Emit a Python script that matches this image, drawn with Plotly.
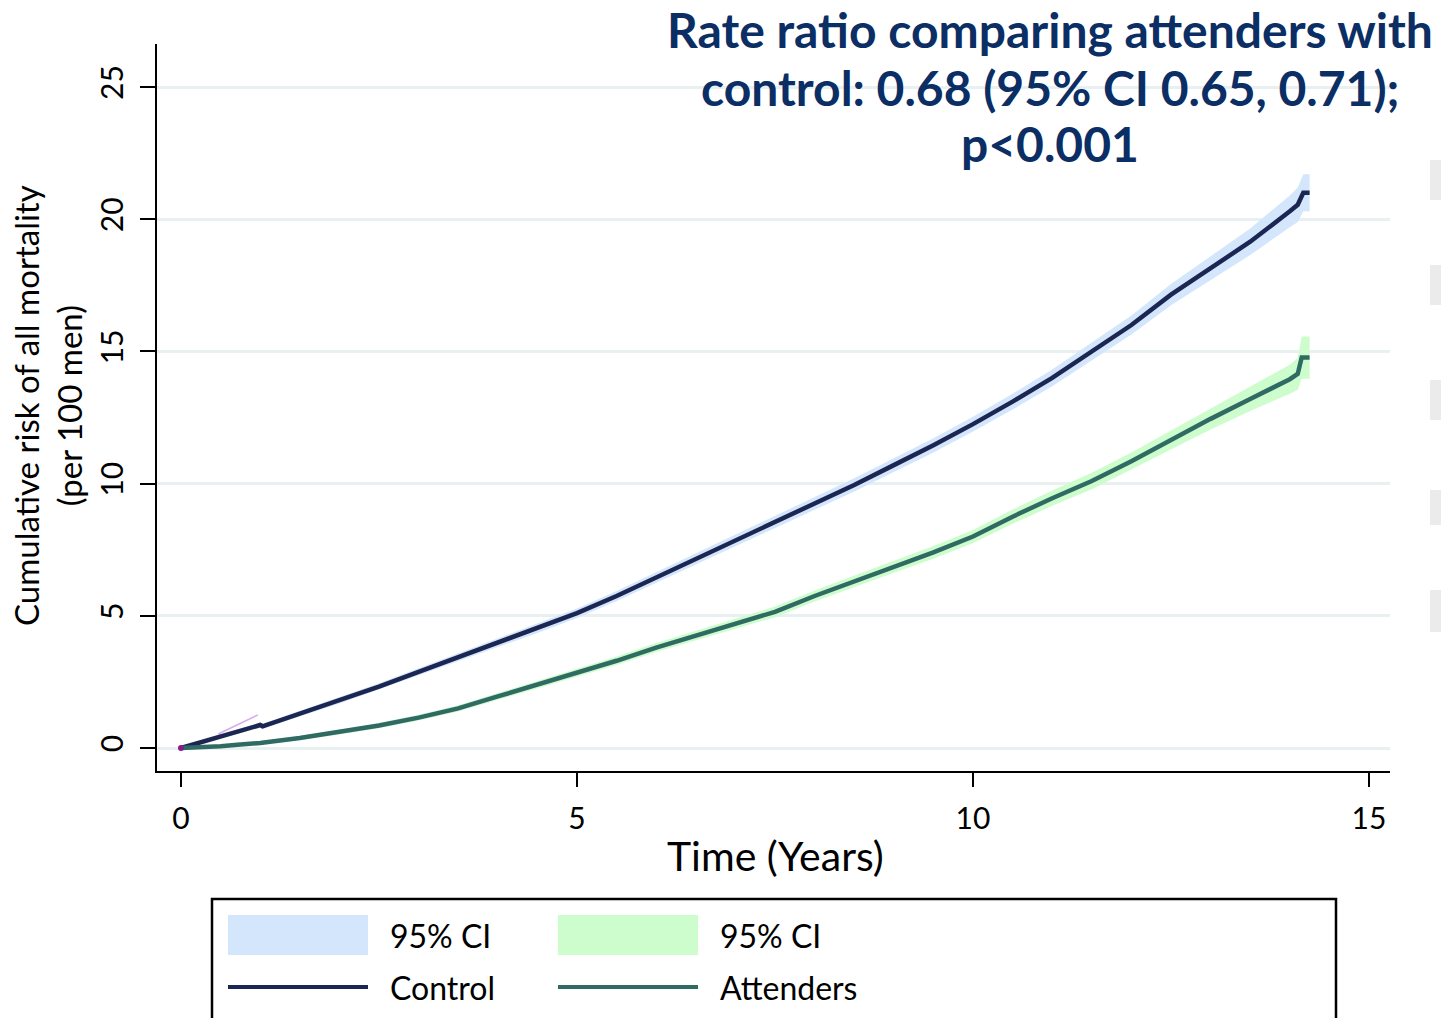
import plotly.graph_objects as go

# Cumulative all-cause mortality (per 100 men) by years since randomisation
control_t = [0, 0.25, 0.5, 0.75, 1.0, 1.03, 1.5, 2, 2.5, 3, 3.5, 4, 4.5, 5, 5.5, 6, 6.5, 7,
             7.5, 8, 8.5, 9, 9.5, 10, 10.5, 11, 11.5, 12, 12.5, 13, 13.5, 14, 14.1, 14.17, 14.25]
control_risk = [0, 0.22, 0.45, 0.65, 0.87, 0.82, 1.3, 1.8, 2.32, 2.88, 3.43, 3.98, 4.52, 5.1,
                5.75, 6.45, 7.15, 7.85, 8.55, 9.25, 9.95, 10.7, 11.45, 12.25, 13.1, 14.0, 15.0,
                16.0, 17.15, 18.15, 19.15, 20.3, 20.55, 21.0, 21.0]
control_ci_half = [0, 0.05, 0.07, 0.09, 0.1, 0.1, 0.11, 0.12, 0.13, 0.14, 0.15, 0.16, 0.17,
                   0.18, 0.19, 0.2, 0.21, 0.22, 0.23, 0.24, 0.25, 0.26, 0.27, 0.28, 0.3, 0.32,
                   0.34, 0.36, 0.4, 0.44, 0.5, 0.6, 0.65, 0.7, 0.7]

attenders_t = [0, 0.25, 0.5, 0.75, 1.0, 1.5, 2, 2.5, 3, 3.5, 4, 4.5, 5, 5.5, 6, 6.5, 7, 7.5,
               8, 8.5, 9, 9.5, 10, 10.5, 11, 11.5, 12, 12.5, 13, 13.5, 14, 14.1, 14.15, 14.25]
attenders_risk = [0, 0.02, 0.07, 0.13, 0.19, 0.38, 0.6, 0.85, 1.15, 1.5, 1.95, 2.4, 2.85, 3.3,
                  3.8, 4.25, 4.7, 5.15, 5.75, 6.3, 6.86, 7.4, 8.0, 8.75, 9.45, 10.1, 10.85,
                  11.65, 12.45, 13.2, 13.95, 14.15, 14.77, 14.77]
attenders_ci_half = [0, 0.02, 0.04, 0.05, 0.06, 0.08, 0.09, 0.1, 0.11, 0.12, 0.13, 0.14, 0.15,
                     0.16, 0.17, 0.18, 0.19, 0.2, 0.21, 0.22, 0.23, 0.24, 0.25, 0.27, 0.29, 0.31,
                     0.33, 0.36, 0.4, 0.45, 0.55, 0.6, 0.8, 0.8]

# faint reference segment near the origin
ref_t = [0.47, 0.97]
ref_risk = [0.53, 1.25]

x_ticks = [0, 5, 10, 15]
y_ticks = [0, 5, 10, 15, 20, 25]

title_lines = ["Rate ratio comparing attenders with",
               "control: 0.68 (95% CI 0.65, 0.71);",
               "p<0.001"]

NAVY = "#1b2752"
TEAL = "#2f6b63"
BLUE_CI = "#d3e6fb"
GREEN_CI = "#cdfccd"
FONT = "Lato"

W, H = 1441, 1018
L, R, T, B = 157, 51, 44, 247


def px_x(px):
    return (px - L) / (W - L - R)


def px_y(py):
    return (H - B - py) / (H - T - B)


def band(t, mid, half):
    lo = [m - h for m, h in zip(mid, half)]
    hi = [m + h for m, h in zip(mid, half)]
    return list(t) + list(t[::-1]), hi + lo[::-1]


fig = go.Figure()

bx, by = band(control_t, control_risk, control_ci_half)
fig.add_trace(go.Scatter(x=bx, y=by, fill="toself", fillcolor=BLUE_CI,
                         line=dict(width=0), mode="lines", hoverinfo="skip",
                         showlegend=False))
bx, by = band(attenders_t, attenders_risk, attenders_ci_half)
fig.add_trace(go.Scatter(x=bx, y=by, fill="toself", fillcolor=GREEN_CI,
                         line=dict(width=0), mode="lines", hoverinfo="skip",
                         showlegend=False))

fig.add_trace(go.Scatter(x=ref_t, y=ref_risk, mode="lines",
                         line=dict(color="#dba8f2", width=1.5), showlegend=False))

fig.add_trace(go.Scatter(x=control_t, y=control_risk, mode="lines",
                         line=dict(color=NAVY, width=4.5), name="Control",
                         showlegend=False))
fig.add_trace(go.Scatter(x=attenders_t, y=attenders_risk, mode="lines",
                         line=dict(color=TEAL, width=4.5), name="Attenders",
                         showlegend=False))
fig.add_trace(go.Scatter(x=[0], y=[0], mode="markers",
                         marker=dict(color="#8a1a8a", size=6), showlegend=False))

shapes = []
annotations = []

# legend box with swatches
shapes.append(dict(type="rect", xref="paper", yref="paper",
                   x0=px_x(212), x1=px_x(1336), y0=px_y(1040), y1=px_y(899),
                   line=dict(color="black", width=2.5), fillcolor="white", layer="above"))
legend_items = [
    ("rect", BLUE_CI, 228, 935, "95% CI"),
    ("rect", GREEN_CI, 558, 935, "95% CI"),
    ("line", NAVY, 228, 987, "Control"),
    ("line", TEAL, 558, 987, "Attenders"),
]
for kind, col, x0, yc, label in legend_items:
    if kind == "rect":
        shapes.append(dict(type="rect", xref="paper", yref="paper",
                           x0=px_x(x0), x1=px_x(x0 + 140), y0=px_y(yc + 20), y1=px_y(yc - 20),
                           line=dict(width=0), fillcolor=col, layer="above"))
    else:
        shapes.append(dict(type="line", xref="paper", yref="paper",
                           x0=px_x(x0), x1=px_x(x0 + 140), y0=px_y(yc), y1=px_y(yc),
                           line=dict(color=col, width=4), layer="above"))
    annotations.append(dict(text=label, xref="paper", yref="paper",
                            x=px_x(x0 + 160), y=px_y(yc), xanchor="left", yanchor="middle",
                            showarrow=False, font=dict(family=FONT, size=32, color="black")))

# light panel edges on the far right
for y0, y1 in [(160, 200), (265, 305), (380, 420), (490, 525), (590, 632)]:
    shapes.append(dict(type="rect", xref="paper", yref="paper",
                       x0=px_x(1430), x1=px_x(1445), y0=px_y(y1), y1=px_y(y0),
                       line=dict(width=0), fillcolor="#ebebeb", layer="below"))

# heading, one line at a time
for line, yc in zip(title_lines, [30, 87, 143]):
    annotations.append(dict(text=line, xref="paper", yref="paper",
                            x=px_x(1050), y=px_y(yc), xanchor="center", yanchor="middle",
                            showarrow=False,
                            font=dict(family=FONT, size=48, color="#0b2e64", weight="bold")))

annotations.append(dict(text="Time (Years)", xref="paper", yref="paper",
                        x=px_x(775), y=px_y(855), xanchor="center", yanchor="middle",
                        showarrow=False, font=dict(family=FONT, size=41, color="black")))

annotations.append(dict(text="Cumulative risk of all mortality<br>(per 100 men)",
                        xref="paper", yref="paper", x=px_x(48), y=px_y(406),
                        xanchor="center", yanchor="middle", textangle=-90,
                        showarrow=False, align="center",
                        font=dict(family=FONT, size=33, color="black")))

fig.update_layout(
    width=W, height=H,
    margin=dict(l=L, r=R, t=T, b=B),
    paper_bgcolor="white", plot_bgcolor="white",
    shapes=shapes, annotations=annotations,
    showlegend=False,
    xaxis=dict(range=[-0.303, 15.265], tickvals=x_ticks, ticks="outside", ticklen=14,
               tickwidth=2, tickcolor="black", showline=True, linecolor="black",
               linewidth=2, showgrid=False, zeroline=False, ticklabelstandoff=6,
               tickfont=dict(family=FONT, size=30, color="black")),
    yaxis=dict(range=[-0.87, 26.63], tickvals=y_ticks, ticks="outside", ticklen=15,
               tickwidth=2, tickcolor="black", showline=True, linecolor="black",
               linewidth=2, showgrid=True, gridcolor="#e9f0f2", gridwidth=3,
               zeroline=False, tickangle=-90, ticklabelstandoff=5,
               tickfont=dict(family=FONT, size=30, color="black")),
)

fig.write_html("out.html")
